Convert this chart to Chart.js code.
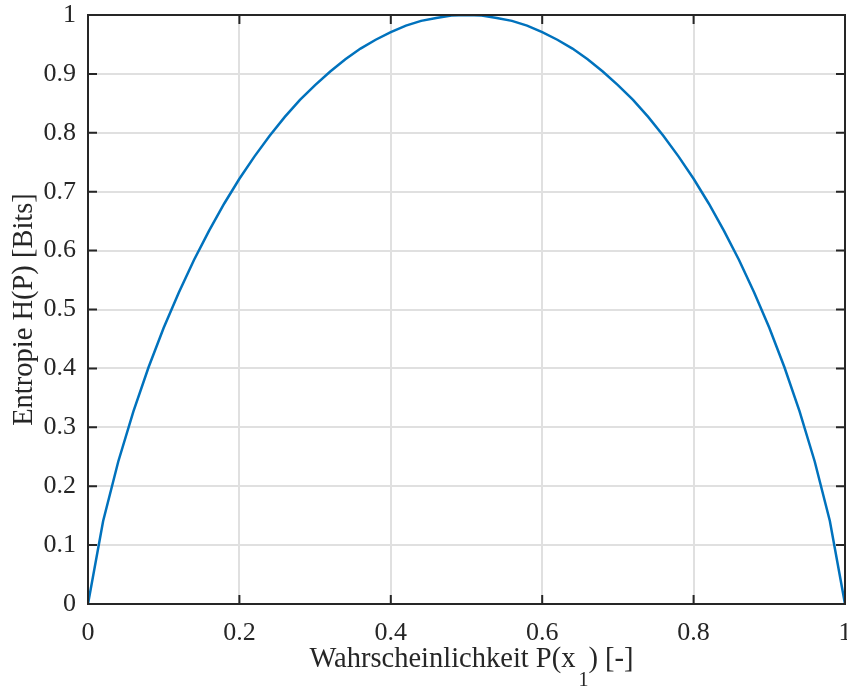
<!DOCTYPE html>
<html>
<head>
<meta charset="utf-8">
<script src="https://cdn.jsdelivr.net/npm/chart.js@4/dist/chart.umd.min.js"></script>
<style>
  html, body { margin: 0; padding: 0; background: #fff; }
  #c { display: block; }
</style>
</head>
<body>
<canvas id="c" width="847" height="688"></canvas>
<script>
const probs = [
  0, 0.02, 0.04, 0.06, 0.08, 0.10, 0.12, 0.14, 0.16, 0.18,
  0.20, 0.22, 0.24, 0.26, 0.28, 0.30, 0.32, 0.34, 0.36, 0.38,
  0.40, 0.42, 0.44, 0.46, 0.48, 0.50, 0.52, 0.54, 0.56, 0.58,
  0.60, 0.62, 0.64, 0.66, 0.68, 0.70, 0.72, 0.74, 0.76, 0.78,
  0.80, 0.82, 0.84, 0.86, 0.88, 0.90, 0.92, 0.94, 0.96, 0.98, 1.00
];
// Entropie H(P) in Bits
const entropy = [
  0, 0.141, 0.242, 0.327, 0.402, 0.469, 0.529, 0.584, 0.634, 0.680,
  0.722, 0.760, 0.795, 0.827, 0.856, 0.881, 0.904, 0.925, 0.943, 0.958,
  0.971, 0.982, 0.990, 0.995, 0.999, 1.000, 0.999, 0.995, 0.990, 0.982,
  0.971, 0.958, 0.943, 0.925, 0.904, 0.881, 0.856, 0.827, 0.795, 0.760,
  0.722, 0.680, 0.634, 0.584, 0.529, 0.469, 0.402, 0.327, 0.242, 0.141, 0
];
const xTicks = [0, 0.2, 0.4, 0.6, 0.8, 1];
const yTicks = [0, 0.1, 0.2, 0.3, 0.4, 0.5, 0.6, 0.7, 0.8, 0.9, 1];

const AX = "#262626";
const FONT = "'Liberation Serif', 'Times New Roman', serif";

const fmt = (v) => String(+Number(v).toFixed(1));

// keine automatische Zusatz-Polsterung durch die Beschriftungen
const noPad = (s) => { s.paddingLeft = s.paddingRight = s.paddingTop = s.paddingBottom = 0; };

// Rahmen oben/rechts, Ticks nach innen, Achsentitel
const boxPlugin = {
  id: "boxPlugin",
  afterDraw(chart) {
    const { ctx, chartArea: a, scales } = chart;
    const x = scales.x, y = scales.y;
    const tl = 9;
    ctx.save();
    ctx.strokeStyle = AX;
    ctx.lineWidth = 2;
    ctx.beginPath();
    xTicks.forEach(v => {
      const px = x.getPixelForValue(v);
      ctx.moveTo(px, a.bottom); ctx.lineTo(px, a.bottom - tl);
      ctx.moveTo(px, a.top); ctx.lineTo(px, a.top + tl);
    });
    yTicks.forEach(v => {
      const py = y.getPixelForValue(v);
      ctx.moveTo(a.left, py); ctx.lineTo(a.left + tl, py);
      ctx.moveTo(a.right, py); ctx.lineTo(a.right - tl, py);
    });
    ctx.stroke();
    ctx.strokeRect(a.left, a.top, a.right - a.left, a.bottom - a.top);

    ctx.fillStyle = AX;
    // y-Titel
    ctx.font = "28.5px " + FONT;
    ctx.textAlign = "center";
    ctx.textBaseline = "middle";
    ctx.save();
    ctx.translate(25, (a.top + a.bottom) / 2);
    ctx.rotate(-Math.PI / 2);
    ctx.fillText("Entropie H(P) [Bits]", 0, 0);
    ctx.restore();

    // x-Titel mit Index
    const big = "28.5px " + FONT, small = "20px " + FONT;
    const p1 = "Wahrscheinlichkeit P(x", p2 = "1", p3 = ") [-]";
    ctx.font = big; const w1 = ctx.measureText(p1).width, w3 = ctx.measureText(p3).width;
    ctx.font = small; const w2 = ctx.measureText(p2).width;
    const gap = 3;
    const total = w1 + gap + w2 + w3;
    let sx = 471.5 - total / 2;
    const base = 667;
    ctx.textAlign = "left";
    ctx.textBaseline = "alphabetic";
    ctx.font = big; ctx.fillText(p1, sx, base); sx += w1 + gap;
    ctx.font = small; ctx.fillText(p2, sx, base + 19); sx += w2;
    ctx.font = big; ctx.fillText(p3, sx, base);
    ctx.restore();
  }
};

new Chart(document.getElementById("c"), {
  type: "line",
  data: {
    datasets: [{
      data: probs.map((p, i) => ({ x: p, y: entropy[i] })),
      borderColor: "#0072BD",
      borderWidth: 2.5,
      pointRadius: 0,
      tension: 0,
      fill: false
    }]
  },
  options: {
    responsive: false,
    animation: false,
    layout: { padding: { top: 15, right: 2, left: 0, bottom: 0 } },
    plugins: { legend: { display: false }, tooltip: { enabled: false } },
    scales: {
      x: {
        type: "linear", min: 0, max: 1,
        afterFit(s) { s.height = 84; noPad(s); },
        afterBuildTicks(s) { s.ticks = xTicks.map(v => ({ value: v })); },
        ticks: { callback: fmt, color: AX, padding: 14, maxRotation: 0, font: { family: FONT, size: 26 } },
        grid: { color: "#e0e0e0", lineWidth: 2, drawTicks: false },
        border: { color: AX, width: 2 }
      },
      y: {
        type: "linear", min: 0, max: 1,
        afterFit(s) { s.width = 88; noPad(s); },
        afterBuildTicks(s) { s.ticks = yTicks.map(v => ({ value: v })); },
        ticks: { callback: fmt, color: AX, padding: 12, font: { family: FONT, size: 26 } },
        grid: { color: "#e0e0e0", lineWidth: 2, drawTicks: false },
        border: { color: AX, width: 2 }
      }
    }
  },
  plugins: [boxPlugin]
});
</script>
</body>
</html>
